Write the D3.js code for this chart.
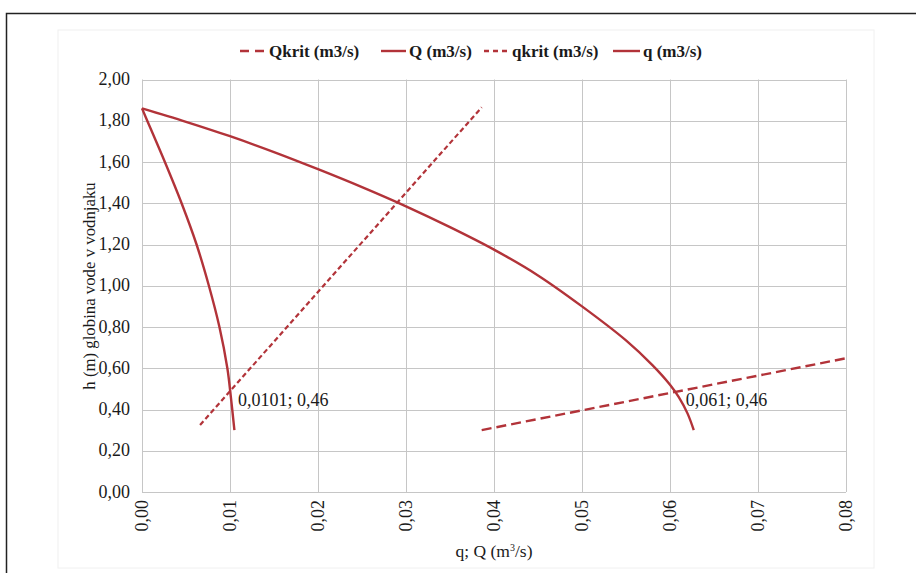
<!DOCTYPE html>
<html>
<head>
    <meta charset="utf-8">
    <title>Globina vode v vodnjaku</title>
    <script type="text/javascript" src="https://d3js.org/d3.v7.min.js"></script>
    <style>
        body { margin: 0; background: white; }
        .canvas { font-family: "Liberation Serif", "DejaVu Serif", serif; }
    </style>
</head>
<body>
    <svg class="canvas" width="916" height="573"></svg>
    <script type="text/javascript">
        // values: [Q or q (m3/s), h (m)]
        var Q = [[0, 1.86], [0.005, 1.795], [0.01, 1.725], [0.015, 1.648], [0.02, 1.565],
                 [0.025, 1.478], [0.03, 1.385], [0.035, 1.284], [0.04, 1.175], [0.045, 1.05],
                 [0.05, 0.90], [0.055, 0.735], [0.058, 0.615], [0.06, 0.52], [0.061, 0.46],
                 [0.062, 0.38], [0.0627, 0.30]]
        var q = [[0, 1.86], [0.0011, 1.75], [0.0026, 1.60], [0.0045, 1.40], [0.0062, 1.20],
                 [0.0076, 1.00], [0.0088, 0.80], [0.0097, 0.60], [0.0101, 0.46], [0.0105, 0.30]]
        var Qkrit = [[0.0386, 0.30], [0.0802, 0.65]]
        var qkrit = [[0.0066, 0.325], [0.0386, 1.865]]
        var labels = [{x: 0.0101, y: 0.46, text: "0,0101; 0,46"}, {x: 0.061, y: 0.46, text: "0,061; 0,46"}]
        var xTicks = [0, 0.01, 0.02, 0.03, 0.04, 0.05, 0.06, 0.07, 0.08]
        var yTicks = [0, 0.2, 0.4, 0.6, 0.8, 1.0, 1.2, 1.4, 1.6, 1.8, 2.0]

        var red = "#b23339"
        var ink = "#1a1a1a"
        var svg = d3.select('.canvas')
        var fmt = d => d3.format(".2f")(d).replace(".", ",")

        // outer frame (only top and left show in the picture) and faint chart panel
        svg.append('rect').attr('x', 58).attr('y', 30).attr('width', 816).attr('height', 538)
            .attr('fill', 'none').attr('stroke', '#f0f0f0')
        svg.append('path').attr('d', 'M6.5,573V13.5H916').attr('fill', 'none').attr('stroke', '#222').attr('stroke-width', 1.5)

        var x = d3.scaleLinear().domain([0, 0.08]).range([142, 846])
        var y = d3.scaleLinear().domain([0, 2]).range([492, 79.5])

        // grid
        svg.append('g').selectAll('line').data(xTicks).enter().append('line')
            .attr('x1', d => Math.round(x(d)) + 0.5).attr('x2', d => Math.round(x(d)) + 0.5)
            .attr('y1', y(0)).attr('y2', y(2)).attr('stroke', '#c6c6c6')
        svg.append('g').selectAll('line').data(yTicks).enter().append('line')
            .attr('y1', d => Math.round(y(d)) + 0.5).attr('y2', d => Math.round(y(d)) + 0.5)
            .attr('x1', x(0)).attr('x2', x(0.08)).attr('stroke', '#c6c6c6')

        // tick labels
        svg.append('g').selectAll('text').data(yTicks).enter().append('text')
            .attr('x', 130).attr('y', d => y(d) + 5.5).attr('text-anchor', 'end')
            .attr('font-size', 18).attr('fill', ink).text(fmt)
        svg.append('g').selectAll('text').data(xTicks).enter().append('text')
            .attr('transform', d => 'translate(' + (x(d) + 6) + ',500) rotate(-90)')
            .attr('text-anchor', 'end').attr('font-size', 18).attr('fill', ink).text(fmt)

        // axis titles
        svg.append('text').attr('x', 494).attr('y', 557).attr('text-anchor', 'middle')
            .attr('font-size', 17.5).attr('fill', ink)
            .html('q; Q (m<tspan dy="-6" font-size="10">3</tspan><tspan dy="6">/s)</tspan>')
        svg.append('text').attr('transform', 'translate(95,286) rotate(-90)').attr('text-anchor', 'middle')
            .attr('font-size', 16.8).attr('fill', ink).text('h (m) globina vode v vodnjaku')

        var line = d3.line().x(d => x(d[0])).y(d => y(d[1]))
        var curve = d3.line().x(d => x(d[0])).y(d => y(d[1])).curve(d3.curveCatmullRom)

        svg.append('path').attr('d', line(Qkrit)).attr('fill', 'none').attr('stroke', red)
            .attr('stroke-width', 2.4).attr('stroke-dasharray', '10,5')
        svg.append('path').attr('d', line(qkrit)).attr('fill', 'none').attr('stroke', red)
            .attr('stroke-width', 2.2).attr('stroke-dasharray', '5,3')
        svg.append('path').attr('d', curve(Q)).attr('fill', 'none').attr('stroke', red).attr('stroke-width', 2.4)
        svg.append('path').attr('d', curve(q)).attr('fill', 'none').attr('stroke', red).attr('stroke-width', 2.4)

        svg.append('g').selectAll('text').data(labels).enter().append('text')
            .attr('x', d => x(d.x) + 7).attr('y', d => y(d.y) + 9)
            .attr('font-size', 18).attr('fill', ink).text(d => d.text)

        // legend
        var legend = [
            {name: 'Qkrit (m3/s)', dash: '9,6', x0: 240, x1: 266},
            {name: 'Q (m3/s)', dash: null, x0: 381, x1: 406},
            {name: 'qkrit (m3/s)', dash: '5,4', x0: 484, x1: 509},
            {name: 'q (m3/s)', dash: null, x0: 613, x1: 640}
        ]
        var lg = svg.append('g').selectAll('g').data(legend).enter().append('g')
        lg.append('line').attr('x1', d => d.x0).attr('x2', d => d.x1).attr('y1', 51).attr('y2', 51)
            .attr('stroke', red).attr('stroke-width', 2.4).attr('stroke-dasharray', d => d.dash)
        lg.append('text').attr('x', d => d.x1 + 3).attr('y', 57).attr('font-size', 17)
            .attr('font-weight', 'bold').attr('fill', ink).text(d => d.name)
    </script>
</body>
</html>
